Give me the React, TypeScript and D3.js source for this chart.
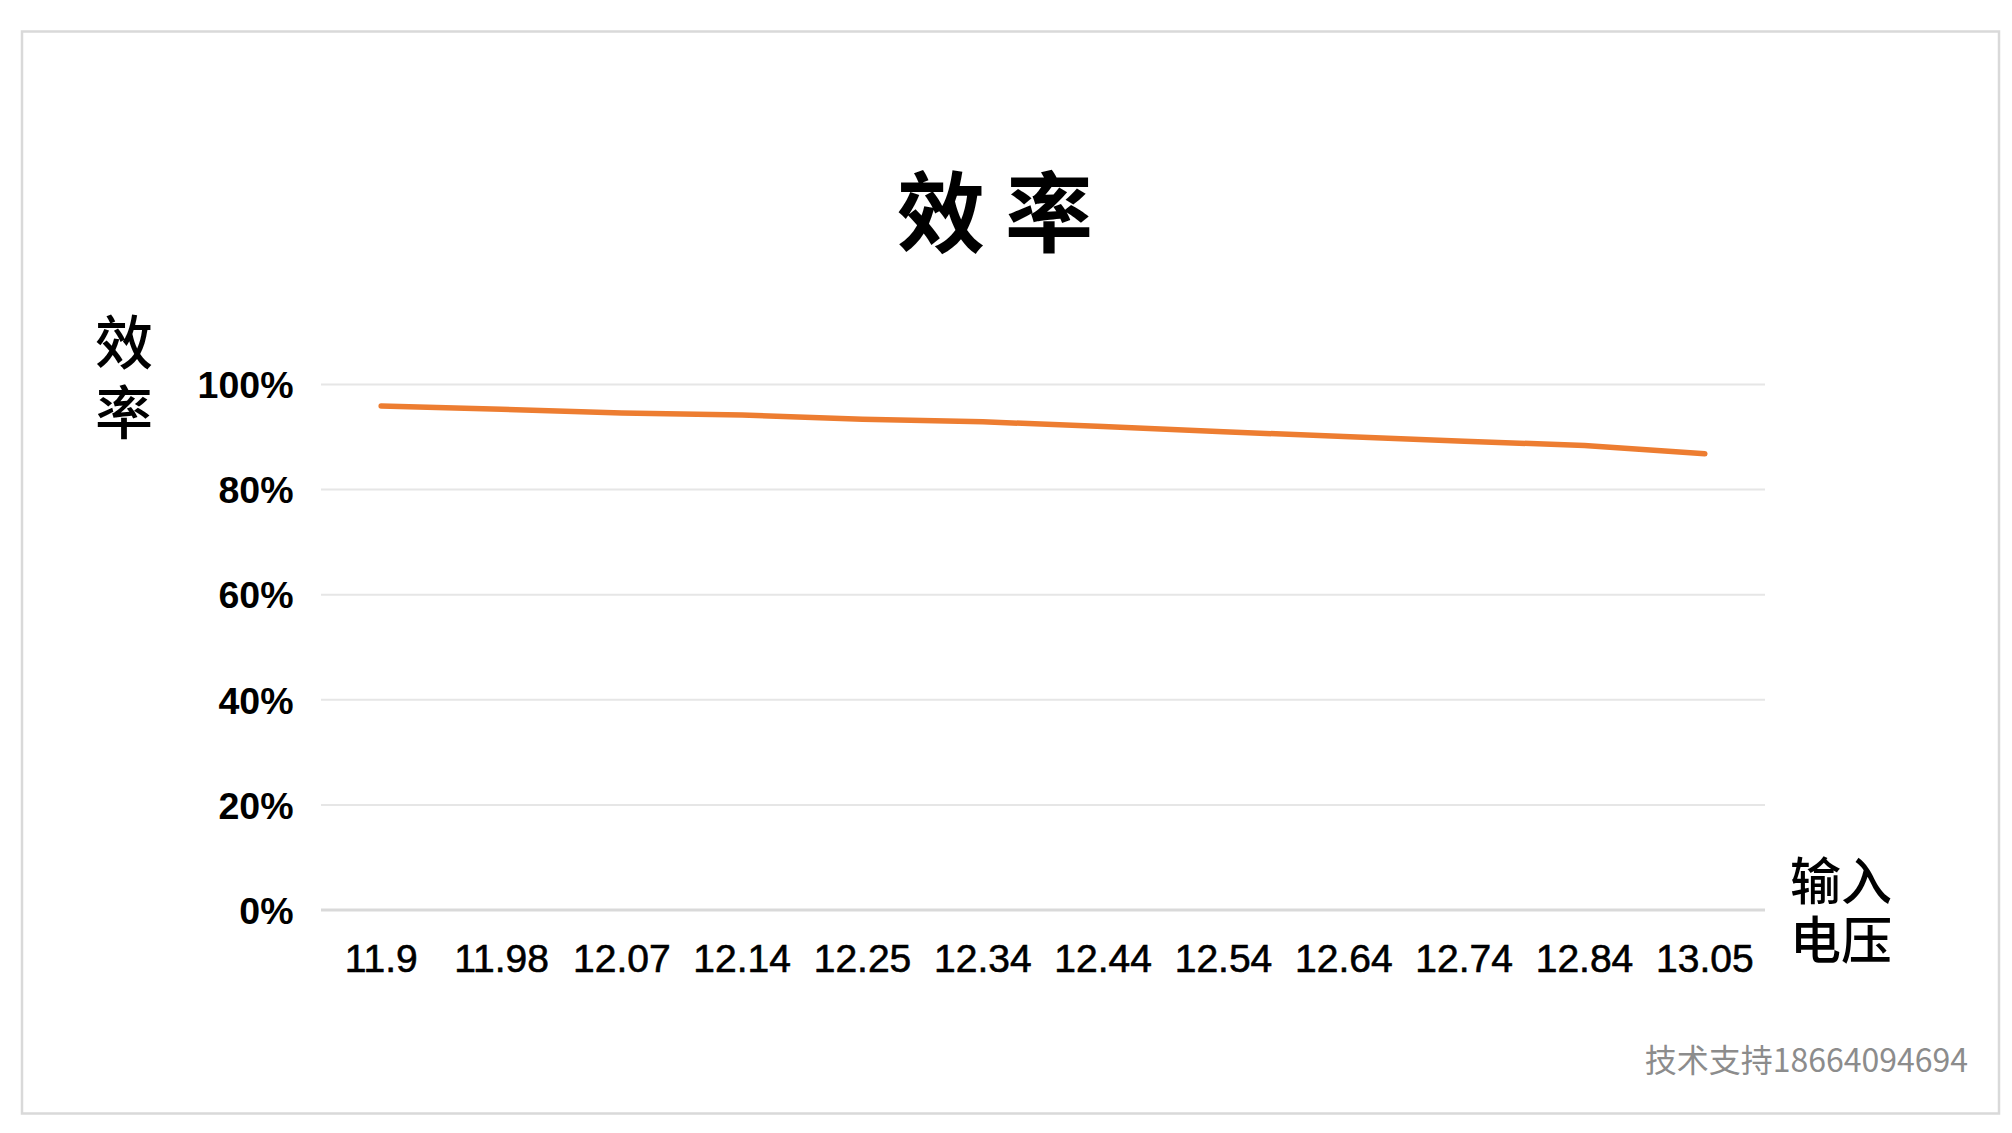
import React from "react";
import * as d3 from "d3";

const categories = ["11.9", "11.98", "12.07", "12.14", "12.25", "12.34", "12.44", "12.54", "12.64", "12.74", "12.84", "13.05"];
const efficiency = [0.959, 0.953, 0.946, 0.942, 0.934, 0.929, 0.92, 0.91, 0.901, 0.892, 0.884, 0.868];
const yTicks = [0, 0.2, 0.4, 0.6, 0.8, 1.0];
const title = "效 率";
const yTitle = ["效", "率"];
const xTitle = ["输入", "电压"];
const watermark = "技术支持18664094694";

const W = 2012;
const H = 1133;
const latin = "'Liberation Sans', Arial, sans-serif";
const cjk = "'Noto Sans CJK SC', 'Noto Sans', sans-serif";

export default function App() {
  const x = d3.scaleBand<string>().domain(categories).range([321, 1765]).paddingInner(0).paddingOuter(0);
  const y = d3.scaleLinear().domain([0, 1]).range([910, 384.5]);
  const cx = (c: string) => (x(c) as number) + x.bandwidth() / 2;
  const line = d3
    .line<number>()
    .x((_, i) => cx(categories[i]))
    .y((d) => y(d));

  return (
    <svg
      width={W}
      height={H}
      viewBox={`0 0 ${W} ${H}`}
      style={{ position: "absolute", left: 0, top: 0, background: "#fff" }}
    >
      <rect x={0} y={0} width={W} height={H} fill="#fff" />
      <rect x={22} y={31.5} width={1977} height={1082} fill="#fff" stroke="#d9d9d9" strokeWidth={2.5} />

      <text x={995} y={245} textAnchor="middle" fontFamily={cjk} fontWeight={700} fontSize={88} fill="#000">
        {title}
      </text>

      {yTicks.map((t) => (
        <line
          key={"g" + t}
          x1={321}
          x2={1765}
          y1={y(t)}
          y2={y(t)}
          stroke={t === 0 ? "#d9d9d9" : "#e6e6e6"}
          strokeWidth={t === 0 ? 3 : 2}
        />
      ))}

      {yTicks.map((t) => (
        <text
          key={"t" + t}
          x={293.5}
          y={y(t) + 13.7}
          textAnchor="end"
          fontFamily={latin}
          fontWeight={700}
          fontSize={37.5}
          fill="#000"
        >
          {d3.format(".0%")(t)}
        </text>
      ))}

      {categories.map((c) => (
        <text key={"x" + c} x={cx(c)} y={972} textAnchor="middle" fontFamily={latin} fontSize={39} fill="#000" stroke="#000" strokeWidth={0.6}>
          {c}
        </text>
      ))}

      <path d={line(efficiency) || ""} fill="none" stroke="#ED7D31" strokeWidth={5.5} strokeLinecap="round" strokeLinejoin="round" />

      <text x={124} y={364} textAnchor="middle" fontFamily={cjk} fontWeight={500} fontSize={58} fill="#000">
        {yTitle.map((s, i) => (
          <tspan key={"yt" + i} x={124} dy={i === 0 ? 0 : 70}>
            {s}
          </tspan>
        ))}
      </text>

      <text x={1841} y={900} textAnchor="middle" fontFamily={cjk} fontWeight={500} fontSize={51} fill="#000">
        {xTitle.map((s, i) => (
          <tspan key={"xt" + i} x={1841} dy={i === 0 ? 0 : 59}>
            {s}
          </tspan>
        ))}
      </text>

      <text x={1968} y={1072} textAnchor="end" fontFamily={cjk} fontSize={32} fill="#8c8c8c">
        {watermark}
      </text>
    </svg>
  );
}
